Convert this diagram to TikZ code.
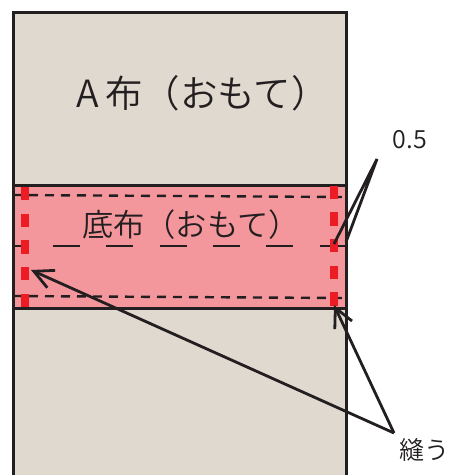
\documentclass[tikz,border=0pt]{standalone}
\usepackage{fontspec}
\usetikzlibrary{arrows.meta}
\newfontfamily\cjk{Noto Sans CJK JP DemiLight}
\definecolor{tan}{HTML}{DFD9CF}
\definecolor{pinkcloth}{HTML}{F4979D}
\definecolor{stitch}{HTML}{ED1C24}
\definecolor{ink}{HTML}{231F20}
\tikzset{
  x=1pt,y=-1pt,
  outline/.style={draw=ink,line width=3pt},
  fold/.style={draw=ink,line width=2.4pt,dash pattern=on 9pt off 7pt},
  center line/.style={draw=ink,line width=2.4pt,dash pattern=on 27pt off 26.3pt,dash phase=13.3pt},
  seam/.style={draw=stitch,line width=8pt,dash pattern=on 13.3pt off 13.4pt},
  leader/.style={draw=ink,line width=2.8pt},
  pointer/.style={draw=ink,line width=2.8pt,-{Straight Barb[length=19pt,width=19pt,line width=2.8pt]}},
  lbl/.style={inner sep=0pt,text=ink,font=\cjk}
}
\begin{document}
\begin{tikzpicture}
\useasboundingbox (0,0) rectangle (450,475);
\fill[tan] (13,12) rectangle (346,475);
\draw[outline] (13,475) -- (13,12) -- (346,12) -- (346,475);
\filldraw[fill=pinkcloth,outline] (13,185) rectangle (346,308);
\path[fold] (13,195) -- (342,197);
\path[fold] (13,296) -- (342,298);
\path[center line] (13,246) -- (346,246);
\path[seam] (25,187) -- (25,308);
\path[seam] (334,185.5) -- (334,306);
\node[lbl,font=\cjk\fontsize{37.5}{38}\selectfont] (a) at (202.5,93.5) {A\,布（おもて）};
\node[lbl,font=\cjk\fontsize{31.3}{32}\selectfont] (b) at (191,225) {底布（おもて）};
\node[lbl,font=\cjk\fontsize{25}{25}\selectfont] (dim) at (410,140) {0.5};
\node[lbl,font=\cjk\fontsize{25}{25}\selectfont] (sew) at (424,450) {縫う};
\coordinate (dimapex) at (377,159);
\coordinate (dim1) at (334,244);
\coordinate (dim2) at (346,242);
\coordinate (sewapex) at (394,433);
\coordinate (sew1) at (334,305);
\coordinate (sew2) at (31,270);
\draw[leader] (dim1) -- (dimapex) -- (dim2);
\draw[pointer] (sewapex) -- (sew1);
\draw[pointer] (sewapex) -- (sew2);
\end{tikzpicture}
\end{document}
